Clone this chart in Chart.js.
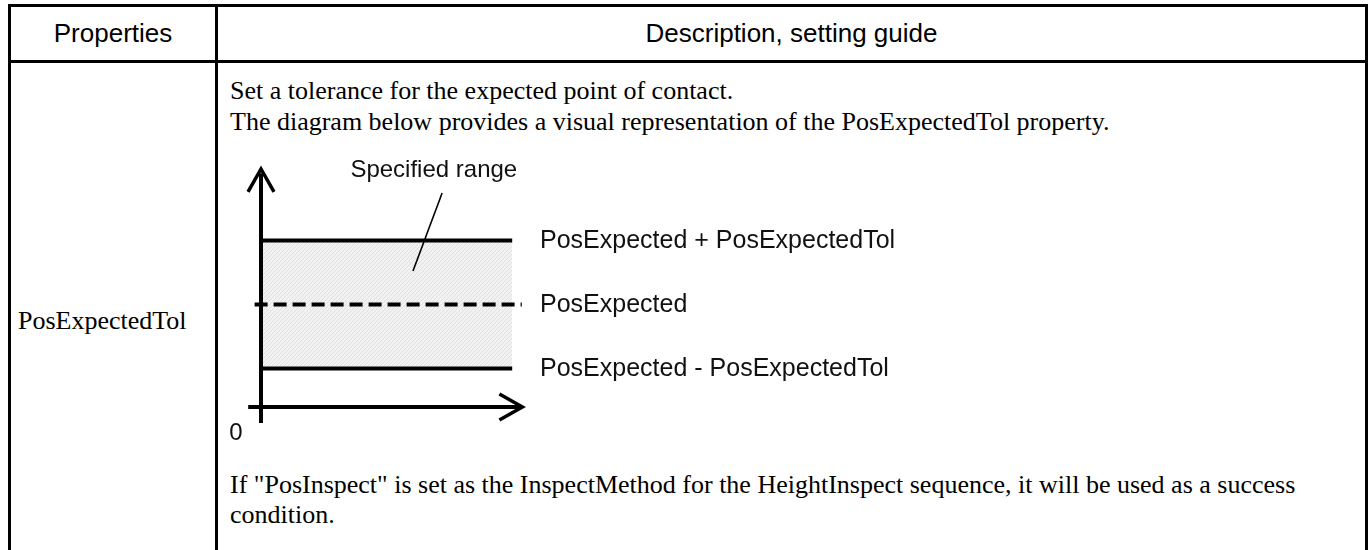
<!DOCTYPE html>
<html><head><meta charset="utf-8">
<script src="https://cdn.jsdelivr.net/npm/chart.js@4.4.1/dist/chart.umd.min.js"></script>
<style>
html,body{margin:0;padding:0;background:#fff;width:1370px;height:550px;overflow:hidden;}
.ln{position:absolute;background:#000;}
.t{position:absolute;white-space:nowrap;color:#000;height:40px;line-height:40px;}
.sans{font-family:"Liberation Sans",Arial,sans-serif;font-size:26px;}
.serif{font-family:"Liberation Serif","Times New Roman",serif;font-size:26px;}
#wrap{position:absolute;left:229px;top:145px;width:680px;height:305px;}
</style></head><body>
<div class="ln" style="left:8px;top:4px;width:1360px;height:3px"></div>
<div class="ln" style="left:8px;top:60px;width:1360px;height:3px"></div>
<div class="ln" style="left:8px;top:4px;width:3px;height:546px"></div>
<div class="ln" style="left:215px;top:4px;width:3px;height:546px"></div>
<div class="ln" style="left:1365px;top:4px;width:3px;height:546px"></div>

<div class="t sans" style="left:11px;width:204px;text-align:center;top:13px">Properties</div>
<div class="t sans" style="left:218px;width:1147px;text-align:center;top:13px">Description, setting guide</div>
<div class="t serif" style="left:18px;top:301px">PosExpectedTol</div>
<div class="t serif" style="left:230px;top:71px">Set a tolerance for the expected point of contact.</div>
<div class="t serif" style="left:230px;top:102px">The diagram below provides a visual representation of the PosExpectedTol property.</div>
<div class="t serif" style="left:230px;top:465px">If "PosInspect" is set as the InspectMethod for the HeightInspect sequence, it will be used as a success</div>
<div class="t serif" style="left:230px;top:495px">condition.</div>

<div id="wrap"><canvas id="c" width="680" height="305"></canvas></div>
<script>
// ---- data (diagram values, in chart units) ----
const posExpected = 3.2;
const posExpectedTol = 2;
const levelLabels = ['PosExpected + PosExpectedTol', 'PosExpected', 'PosExpected - PosExpectedTol'];
const levelValues = [posExpected + posExpectedTol, posExpected, posExpected - posExpectedTol];
const levelXRange = [0, 7.85];        // extent of the tolerance lines
const dashedXRange = [-0.2, 8.15];    // extent of the expected (dashed) line
const xAxisRange = [-0.4, 8.1];       // horizontal axis line
const xArrowTip = 8.2;
const yAxisRange = [-0.5, 7.3];       // vertical axis line
const yArrowTip = 7.47;
const labelX = 8.72;
const originLabel = '0';
const originLabelPos = [-0.78, -0.81];
const rangeLabel = 'Specified range';
const rangeLabelPos = [5.4, 7.4];
const leaderLine = [[5.66, 6.69], [4.75, 4.25]];

// hatch pattern for the specified range
function hatch() {
  const p = document.createElement('canvas');
  p.width = 4; p.height = 4;
  const g = p.getContext('2d');
  g.fillStyle = '#f2f2f2'; g.fillRect(0, 0, 4, 4);
  g.strokeStyle = '#e0e0e0'; g.lineWidth = 1;
  g.beginPath(); g.moveTo(0, 4); g.lineTo(4, 0); g.stroke();
  return g.createPattern(p, 'repeat');
}

const black = '#000';
const seg = (xr, y) => [{x: xr[0], y: y}, {x: xr[1], y: y}];
const datasets = [
  {label: 'lower', data: seg(levelXRange, levelValues[2]), borderColor: black, borderWidth: 4, fill: false},
  {label: 'upper', data: seg(levelXRange, levelValues[0]), borderColor: black, borderWidth: 4, fill: '-1', backgroundColor: hatch()},
  {label: 'expected', data: seg(dashedXRange, levelValues[1]), borderColor: black, borderWidth: 4, borderDash: [13, 6], fill: false},
  {label: 'xaxis', data: seg(xAxisRange, 0), borderColor: black, borderWidth: 4, fill: false},
  {label: 'yaxis', data: [{x: 0, y: yAxisRange[0]}, {x: 0, y: yAxisRange[1]}], borderColor: black, borderWidth: 4, fill: false},
  {label: 'leader', data: leaderLine.map(p => ({x: p[0], y: p[1]})), borderColor: black, borderWidth: 1.6, fill: false}
];

const decor = {
  id: 'decor',
  afterDatasetsDraw(chart) {
    const ctx = chart.ctx, xs = chart.scales.x, ys = chart.scales.y;
    ctx.save();
    ctx.strokeStyle = black; ctx.lineWidth = 3.5; ctx.lineJoin = 'miter'; ctx.lineCap = 'butt';
    // x arrow
    let tx = xs.getPixelForValue(xArrowTip), ty = ys.getPixelForValue(0);
    ctx.beginPath(); ctx.moveTo(tx - 24, ty - 13); ctx.lineTo(tx - 1, ty); ctx.lineTo(tx - 24, ty + 13); ctx.stroke();
    // y arrow
    tx = xs.getPixelForValue(0); ty = ys.getPixelForValue(yArrowTip);
    ctx.beginPath(); ctx.moveTo(tx - 13, ty + 24); ctx.lineTo(tx, ty + 1); ctx.lineTo(tx + 13, ty + 24); ctx.stroke();
    // labels
    ctx.fillStyle = '#111';
    ctx.font = '25px "Liberation Sans", Arial, sans-serif';
    ctx.textAlign = 'left'; ctx.textBaseline = 'middle';
    levelLabels.forEach((s, i) => ctx.fillText(s, xs.getPixelForValue(labelX), ys.getPixelForValue(levelValues[i]) + 1));
    ctx.font = '24px "Liberation Sans", Arial, sans-serif';
    ctx.textAlign = 'center';
    ctx.fillText(rangeLabel, xs.getPixelForValue(rangeLabelPos[0]), ys.getPixelForValue(rangeLabelPos[1]));
    ctx.fillText(originLabel, xs.getPixelForValue(originLabelPos[0]), ys.getPixelForValue(originLabelPos[1]));
    ctx.restore();
  }
};

new Chart(document.getElementById('c'), {
  type: 'scatter',
  data: {datasets: datasets},
  options: {
    responsive: false, animation: false, devicePixelRatio: 1,
    showLine: true,
    elements: {point: {radius: 0, hoverRadius: 0}, line: {tension: 0}},
    layout: {padding: {left: 0, right: 232, top: 6, bottom: 11}},
    scales: {
      x: {type: 'linear', min: -1, max: 13, display: false},
      y: {type: 'linear', min: -1, max: 8, display: false}
    },
    plugins: {legend: {display: false}, tooltip: {enabled: false}, filler: {drawTime: 'beforeDatasetsDraw'}}
  },
  plugins: [decor]
});
</script>
</body></html>
